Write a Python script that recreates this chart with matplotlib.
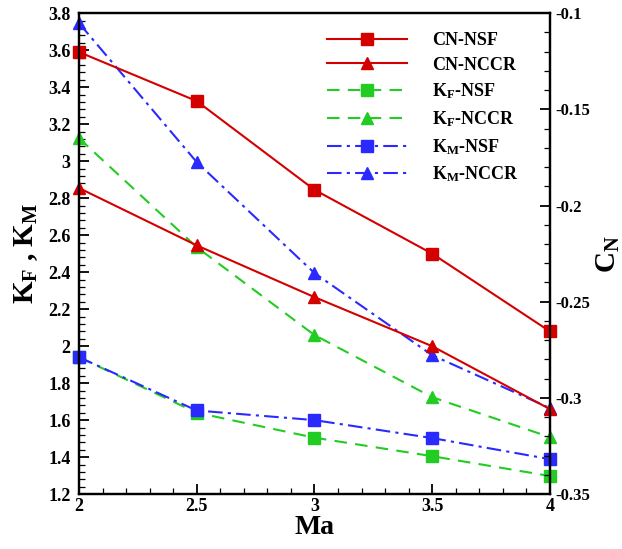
import matplotlib
matplotlib.use("Agg")
import matplotlib.pyplot as plt
from matplotlib.ticker import MultipleLocator, FuncFormatter

plt.rcParams['font.family'] = ['Liberation Serif', 'DejaVu Serif']
plt.rcParams['font.weight'] = 'bold'
plt.rcParams['mathtext.fontset'] = 'custom'
plt.rcParams['mathtext.rm'] = 'Liberation Serif:bold'
plt.rcParams['mathtext.bf'] = 'Liberation Serif:bold'
plt.rcParams['mathtext.it'] = 'Liberation Serif:bold'

ma = [2.0, 2.5, 3.0, 3.5, 4.0]
cn_nsf = [-0.1202, -0.1457, -0.1918, -0.2250, -0.2654]
cn_nccr = [-0.1909, -0.2207, -0.2476, -0.2731, -0.3058]
kf_nsf = [1.94, 1.64, 1.505, 1.405, 1.298]
kf_nccr = [3.124, 2.535, 2.06, 1.724, 1.508]
km_nsf = [1.94, 1.652, 1.60, 1.503, 1.389]
km_nccr = [3.746, 2.995, 2.395, 1.951, 1.665]

red = '#d40000'
green = '#22cc22'
blue = '#2a2aff'

fig = plt.figure(figsize=(6.22, 5.49), dpi=100)
ax1 = fig.add_axes([0.127, 0.100, 0.757, 0.876])
ax2 = ax1.twinx()

lw = 1.5
ms = 8
dash = (6, 4)
dashdot = (7, 2.5, 1.5, 2.5)

h3, = ax1.plot(ma, kf_nsf, color=green, lw=lw, dashes=dash, marker='s', ms=ms, label=r'K$_\mathrm{F}$-NSF')
h4, = ax1.plot(ma, kf_nccr, color=green, lw=lw, dashes=dash, marker='^', ms=ms + 1, label=r'K$_\mathrm{F}$-NCCR')
h5, = ax1.plot(ma, km_nsf, color=blue, lw=lw, dashes=dashdot, marker='s', ms=ms, label=r'K$_\mathrm{M}$-NSF')
h6, = ax1.plot(ma, km_nccr, color=blue, lw=lw, dashes=dashdot, marker='^', ms=ms + 1, label=r'K$_\mathrm{M}$-NCCR')
h1, = ax2.plot(ma, cn_nsf, color=red, lw=lw, marker='s', ms=ms, label='CN-NSF')
h2, = ax2.plot(ma, cn_nccr, color=red, lw=lw, marker='^', ms=ms + 1, label='CN-NCCR')

for h in (h1, h2, h3, h4, h5, h6):
    h.set_clip_on(False)

ax1.set_xlim(2, 4)
ax1.set_ylim(1.2, 3.8)
ax2.set_ylim(-0.35, -0.1)

ax1.xaxis.set_major_locator(MultipleLocator(0.5))
ax1.xaxis.set_minor_locator(MultipleLocator(0.1))
ax1.yaxis.set_major_locator(MultipleLocator(0.2))
ax1.yaxis.set_minor_locator(MultipleLocator(0.04))
ax2.yaxis.set_major_locator(MultipleLocator(0.05))
ax2.yaxis.set_minor_locator(MultipleLocator(0.01))

def fmt(v, pos):
    s = ('%.2f' % v).rstrip('0').rstrip('.')
    if s == '-0':
        s = '0'
    return s

ax1.xaxis.set_major_formatter(FuncFormatter(fmt))
ax1.yaxis.set_major_formatter(FuncFormatter(fmt))
ax2.yaxis.set_major_formatter(FuncFormatter(fmt))

for ax in (ax1, ax2):
    for s in ax.spines.values():
        s.set_linewidth(1.6)
ax1.tick_params(axis='both', which='both', direction='in', labelsize=13, top=False)
ax1.tick_params(axis='both', which='major', length=7, width=1.3)
ax1.tick_params(axis='y', which='major', pad=6)
ax1.tick_params(axis='x', which='major', pad=3)
ax1.tick_params(axis='both', which='minor', length=4, width=0.9)
ax2.tick_params(axis='y', which='both', direction='in', labelsize=12)
ax2.tick_params(axis='y', which='major', length=7, width=1.3, pad=4)
ax2.tick_params(axis='y', which='minor', length=4, width=0.9)

ax1.set_xlabel('Ma', fontsize=20, fontweight='bold', labelpad=0)
ax1.set_ylabel(r'K$_\mathrm{F}$ , K$_\mathrm{M}$', fontsize=21, fontweight='bold', labelpad=6)
ax2.set_ylabel(r'C$_\mathrm{N}$', fontsize=21, fontweight='bold', labelpad=3)

leg = ax2.legend(handles=[h1, h2, h3, h4, h5, h6], loc='upper right',
                 bbox_to_anchor=(0.968, 0.995), frameon=False, fontsize=13,
                 handlelength=4.4, numpoints=1, labelspacing=0.44, handletextpad=1.4)

fig.savefig('out.png', dpi=100)
